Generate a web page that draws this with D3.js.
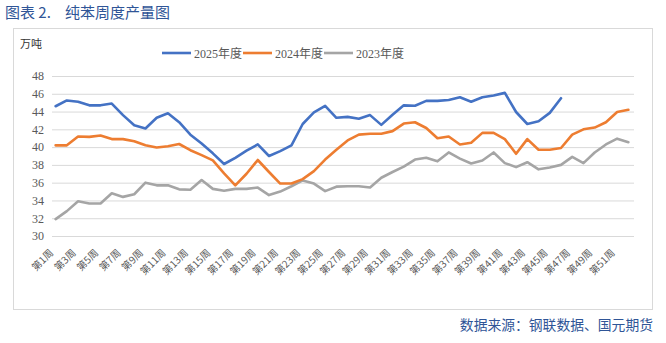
<!DOCTYPE html>
<html><head><meta charset="utf-8">
<script src="https://cdn.jsdelivr.net/npm/d3@7/dist/d3.min.js"></script>
<style>body{margin:0;background:#fff}svg{display:block}</style>
</head><body>
<script>
const weeks = ["第1周","第2周","第3周","第4周","第5周","第6周","第7周","第8周","第9周","第10周","第11周","第12周","第13周","第14周","第15周","第16周","第17周","第18周","第19周","第20周","第21周","第22周","第23周","第24周","第25周","第26周","第27周","第28周","第29周","第30周","第31周","第32周","第33周","第34周","第35周","第36周","第37周","第38周","第39周","第40周","第41周","第42周","第43周","第44周","第45周","第46周","第47周","第48周","第49周","第50周","第51周","第52周"];
const y2025 = [44.6,45.25,45.1,44.7,44.7,44.9,43.6,42.45,42.1,43.3,43.8,42.8,41.4,40.4,39.3,38.1,38.8,39.6,40.3,39.0,39.55,40.2,42.6,43.9,44.65,43.3,43.4,43.2,43.6,42.5,43.65,44.7,44.65,45.2,45.2,45.3,45.6,45.1,45.6,45.8,46.1,43.95,42.6,42.9,43.85,45.5];
const y2024 = [40.2,40.2,41.2,41.15,41.3,40.9,40.9,40.65,40.2,39.95,40.1,40.35,39.65,39.1,38.5,37.05,35.7,37.0,38.55,37.2,35.9,35.9,36.4,37.3,38.6,39.7,40.75,41.4,41.5,41.5,41.8,42.65,42.8,42.15,41.0,41.2,40.3,40.5,41.6,41.6,40.9,39.25,40.9,39.7,39.7,39.9,41.4,42.0,42.2,42.8,43.95,44.2];
const y2023 = [31.9,32.8,33.9,33.65,33.65,34.8,34.4,34.7,36.0,35.7,35.7,35.25,35.2,36.3,35.3,35.1,35.3,35.3,35.45,34.6,35.0,35.6,36.25,35.9,35.05,35.55,35.6,35.6,35.45,36.55,37.2,37.8,38.6,38.8,38.4,39.4,38.7,38.15,38.5,39.4,38.2,37.75,38.3,37.5,37.7,38.0,38.9,38.2,39.4,40.3,40.95,40.55];
const yTicks = [30,32,34,36,38,40,42,44,46,48];
const seriesNames = ["2025年度","2024年度","2023年度"];
const seriesColors = ["#4472C4","#ED7D31","#A5A5A5"];
const seriesData = [y2025, y2024, y2023];

const W = 666, H = 343;
const svg = d3.select("body").append("svg").attr("width", W).attr("height", H);
svg.append("rect").attr("width", W).attr("height", H).attr("fill", "#fff");

const cjk = "'Noto Sans CJK SC', sans-serif";
// title
svg.append("text").attr("x", 5).attr("y", 18)
  .attr("font-family", cjk).attr("font-size", 15)
  .attr("fill", "#2F5597").text("图表 2.");
svg.append("text").attr("x", 65).attr("y", 18)
  .attr("font-family", cjk).attr("font-size", 15)
  .attr("fill", "#2F5597").text("纯苯周度产量图");

// frame
svg.append("rect").attr("x", 13.5).attr("y", 28.5).attr("width", 639).attr("height", 281)
  .attr("fill", "none").attr("stroke", "#D9D9D9").attr("stroke-width", 1);

// source
svg.append("text").attr("x", 653).attr("y", 330).attr("text-anchor", "end")
  .attr("font-family", cjk).attr("font-size", 13.8)
  .attr("fill", "#2F5597").text("数据来源：钢联数据、国元期货");

// unit
svg.append("text").attr("x", 20).attr("y", 48)
  .attr("font-family", cjk).attr("font-size", 11)
  .attr("fill", "#333").text("万吨");

const x = d3.scaleBand().domain(weeks).range([50, 634]).padding(0);
const xc = d => x(d) + x.bandwidth() / 2;
const y = d3.scaleLinear().domain([30, 48]).range([236, 76]);

// gridlines
const yAxis = d3.axisLeft(y).tickValues(yTicks).tickSize(-(634 - 52)).tickPadding(8);
const gy = svg.append("g").attr("transform", "translate(52,0)").call(yAxis);
gy.select(".domain").remove();
gy.selectAll(".tick line").attr("stroke", "#D9D9D9").attr("stroke-width", 1);
gy.selectAll(".tick text").attr("font-family", "'Liberation Serif', serif").attr("font-size", 12)
  .attr("fill", "#595959");

// x labels
const xAxis = d3.axisBottom(x).tickValues(weeks.filter((d, i) => i % 2 === 0)).tickSize(0).tickPadding(0);
const gx = svg.append("g").attr("transform", "translate(0,240)").call(xAxis);
gx.select(".domain").remove();
gx.selectAll(".tick text")
  .attr("font-family", cjk).attr("font-size", 10)
  .attr("fill", "#595959")
  .attr("text-anchor", "end").attr("y", 0).attr("dy", "0.35em").attr("dx", "0")
  .attr("transform", "translate(-4,11) rotate(-45)");

// lines
const line = d3.line().x((d, i) => xc(weeks[i])).y(d => y(d));
seriesData.slice().reverse().forEach((s, k) => {
  const idx = 2 - k;
  svg.append("path").datum(s).attr("d", line).attr("fill", "none")
    .attr("stroke", seriesColors[idx]).attr("stroke-width", 2.6)
    .attr("stroke-linejoin", "round").attr("stroke-linecap", "round");
});

// legend
const legX = [162, 243, 324];
seriesNames.forEach((n, i) => {
  const g = svg.append("g").attr("transform", `translate(${legX[i]},53)`);
  g.append("line").attr("x1", 0).attr("x2", 29).attr("y1", 0).attr("y2", 0)
    .attr("stroke", seriesColors[i]).attr("stroke-width", 2.6);
  g.append("text").attr("x", 32).attr("y", 4.5)
    .attr("font-family", "'Liberation Serif', 'Noto Sans CJK SC', serif").attr("font-size", 12)
    .attr("fill", "#595959").text(n);
});
</script>
</body></html>
